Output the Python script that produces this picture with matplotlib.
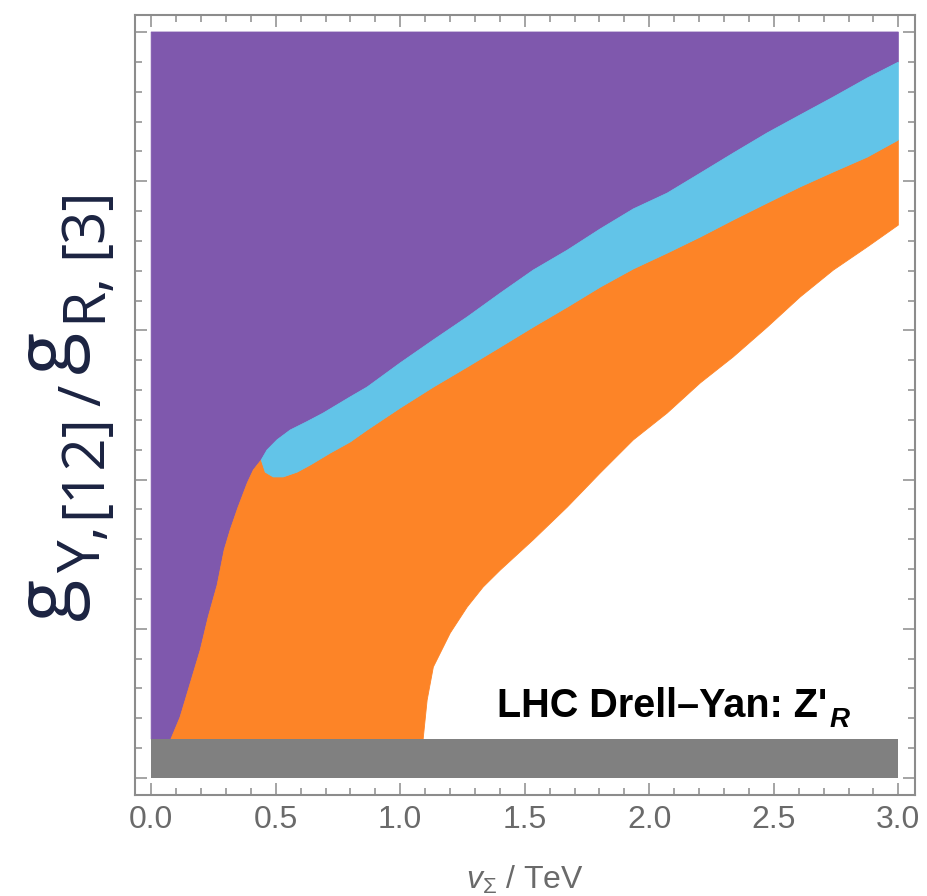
import matplotlib
matplotlib.use("Agg")
import matplotlib.pyplot as plt
import numpy as np
from matplotlib.ticker import MultipleLocator, FormatStrFormatter

# boundaries (x = v_Sigma / TeV, y = coupling ratio)
gray_top = 0.13
y_max = 2.5

left_x = [0.079, 0.116, 0.157, 0.197, 0.229, 0.265, 0.293, 0.317, 0.349, 0.386, 0.410, 0.442]
left_y = [0.13, 0.204, 0.318, 0.429, 0.540, 0.647, 0.764, 0.831, 0.908, 0.989, 1.032, 1.066]

cyan_top_x = [0.442, 0.465, 0.505, 0.558, 0.625, 0.691, 0.731, 0.799, 0.867, 1.000, 1.133, 1.269, 1.402,
              1.534, 1.671, 1.803, 1.936, 2.072, 2.205, 2.337, 2.474, 2.606, 2.739, 2.876, 3.0]
cyan_top_y = [1.066, 1.099, 1.133, 1.166, 1.194, 1.223, 1.243, 1.277, 1.310, 1.391, 1.468, 1.545, 1.625,
              1.702, 1.769, 1.840, 1.907, 1.960, 2.027, 2.094, 2.162, 2.222, 2.282, 2.346, 2.399]

cyan_bot_x = [0.442, 0.458, 0.490, 0.530, 0.586, 0.639, 0.719, 0.799, 0.867, 1.000, 1.133, 1.269, 1.402,
              1.534, 1.671, 1.803, 1.936, 2.072, 2.205, 2.337, 2.474, 2.606, 2.739, 2.876, 3.0]
cyan_bot_y = [1.066, 1.025, 1.009, 1.009, 1.025, 1.049, 1.089, 1.126, 1.166, 1.240, 1.310, 1.377, 1.444,
              1.511, 1.578, 1.645, 1.706, 1.759, 1.813, 1.870, 1.927, 1.981, 2.031, 2.081, 2.138]

white_x = [1.092, 1.108, 1.133, 1.201, 1.269, 1.333, 1.402, 1.534, 1.671, 1.803, 1.936, 2.072, 2.205,
           2.337, 2.474, 2.606, 2.739, 2.876, 3.0]
white_y = [0.13, 0.261, 0.372, 0.486, 0.573, 0.640, 0.697, 0.798, 0.908, 1.022, 1.133, 1.223, 1.324,
           1.411, 1.511, 1.612, 1.702, 1.780, 1.853]

x_ticks = [0.0, 0.5, 1.0, 1.5, 2.0, 2.5, 3.0]

PURPLE = "#7F58AD"
ORANGE = "#FD8427"
CYAN = "#62C4E8"
GRAY = "#808080"
FRAME = "#8c8c8c"
NAVY = "#1B2341"

plt.rcParams["mathtext.fontset"] = "custom"
plt.rcParams["mathtext.it"] = "Liberation Sans:italic"
plt.rcParams["mathtext.rm"] = "Liberation Sans"
plt.rcParams["mathtext.sf"] = "Liberation Sans"

fig = plt.figure(figsize=(9.27, 8.96), dpi=100)
ax = fig.add_axes([135/927, 1 - 795/896, 780/927, 780/896])

# purple: everything above the left boundary and the cyan band
px = [0, 0, 3] + cyan_top_x[::-1] + left_x[::-1]
py = [gray_top, y_max, y_max] + cyan_top_y[::-1] + left_y[::-1]
ax.fill(px, py, color=PURPLE, lw=0.6, ec=PURPLE)

# orange: between left boundary / cyan band and the white region
ox = left_x + cyan_bot_x + white_x[::-1]
oy = left_y + cyan_bot_y + white_y[::-1]
ax.fill(ox, oy, color=ORANGE, lw=0.6, ec=ORANGE)

# cyan band
cx = cyan_top_x + cyan_bot_x[::-1]
cy = cyan_top_y + cyan_bot_y[::-1]
ax.fill(cx, cy, color=CYAN, lw=0.6, ec=CYAN)

# gray strip at the bottom
ax.fill_between([0, 3], 0, gray_top, color=GRAY, lw=0)

ax.set_xlim(-0.065, 3.067)
ax.set_ylim(-0.057, 2.557)
ax.set_xticks(x_ticks)
ax.xaxis.set_major_formatter(FormatStrFormatter("%.1f"))
ax.xaxis.set_minor_locator(MultipleLocator(0.1))
ax.yaxis.set_major_locator(MultipleLocator(0.5))
ax.yaxis.set_minor_locator(MultipleLocator(0.1))
ax.tick_params(which="both", direction="in", top=True, right=True, color=FRAME, width=1.1,
               labelleft=False, labelcolor="#6a6a6a", labelsize=23, pad=7)
ax.tick_params(which="major", length=8.5)
ax.tick_params(which="minor", length=5)
for lab in ax.get_xticklabels():
    lab.set_family("Liberation Sans")
for sp in ax.spines.values():
    sp.set_color(FRAME)
    sp.set_linewidth(1.5)

fig.text(525/927, 1 - 889/896, r"$v_{\Sigma}$ / TeV", ha="center", va="baseline",
         family="Liberation Sans", fontsize=23, color="#6a6a6a")

t = ax.text(1.39, 0.204, "LHC Drell\u2013Yan: Z'", family="Liberation Sans", fontweight="bold",
            fontsize=28.5, color="black", ha="left", va="baseline")
ax.annotate("R", xy=(1, 0), xycoords=t, xytext=(1, -1), textcoords="offset points",
            family="Liberation Sans", fontweight="bold", style="italic", fontsize=20,
            color="black", ha="left", va="baseline")

# y label built from pieces: large g's, the rest set lower
def ylab(s, xpx, ypx, size):
    fig.text(xpx/927, 1 - ypx/896, s, rotation=90, rotation_mode="anchor", ha="left",
             va="baseline", family="Open Sans", fontsize=size, color=NAVY)

ylab("g", 71, 620, 56)
ylab("Y,", 100, 573, 42)
ylab("[12]", 100, 518, 42)
ylab("/", 100, 406, 42)
ylab("g", 71, 373, 56)
ylab("R,", 100, 322, 42)
ylab("[3]", 100, 258, 42)

fig.savefig("out.png", dpi=100)
